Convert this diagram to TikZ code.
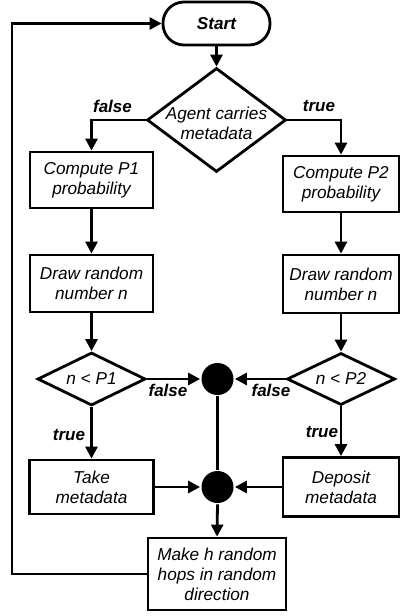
\documentclass[tikz,border=0pt]{standalone}
\usepackage{fontspec}
\setmainfont{Liberation Sans}
\usetikzlibrary{arrows.meta,shapes.geometric}
\newcommand{\dtxt}[2]{\makebox[0pt]{\smash{\raisebox{#1}{\begin{tabular}{@{}c@{}}#2\end{tabular}}}}}
\begin{document}
\begin{tikzpicture}[x=1pt,y=-1pt,
  line width=2.8pt,
  every node/.style={font=\fontsize{17.2}{20}\selectfont\itshape, inner sep=0pt},
  proc/.style={draw, rectangle, align=center},
  deci/.style={draw, diamond, inner sep=0pt},
  junc/.style={circle, fill=black, minimum size=32pt, inner sep=0pt},
  termnode/.style={draw, rectangle, rounded corners=21pt, minimum width=107pt, minimum height=43pt, font=\fontsize{17.2}{20}\selectfont\bfseries\itshape},
  lbl/.style={font=\fontsize{17}{20}\selectfont\bfseries\itshape},
  arr/.style={-{Triangle[length=12pt,width=12pt]}}
]
\useasboundingbox (0,0) rectangle (400,616);

\node[termnode] (start) at (216.5,23.5) {Start};
\node[deci, minimum width=139pt, minimum height=104pt] (d1) at (216.5,120) {\dtxt{-10pt}{Agent carries\\metadata}};

\node[proc, minimum width=123pt, minimum height=56pt] (p1) at (91.5,180) {Compute P1\\probability};
\node[proc, minimum width=116pt, minimum height=56pt] (p2) at (341,184) {Compute P2\\probability};

\node[proc, minimum width=123pt, minimum height=57pt] (r1) at (91.5,283.5) {Draw random\\number n};
\node[proc, minimum width=116pt, minimum height=58pt] (r2) at (341,284) {Draw random\\number n};

\node[deci, minimum width=108pt, minimum height=53pt] (c1) at (91.5,379) {\dtxt{-6pt}{n < P1}};
\node[deci, minimum width=108pt, minimum height=52pt] (c2) at (341,379) {\dtxt{-6pt}{n < P2}};

\node[junc] (j1) at (217.5,379) {};
\node[junc] (j2) at (217.5,487) {};

\node[proc, minimum width=124pt, minimum height=54pt] (t1) at (91.5,487) {Take\\metadata};
\node[proc, minimum width=116pt, minimum height=59pt] (t2) at (341,487) {Deposit\\metadata};

\node[proc, minimum width=138pt, minimum height=72pt] (mk) at (217,574) {Make h random\\hops in random\\direction};

\coordinate (lp) at (12,574);

% connectors
\draw[arr] (start.south) -- (d1.north);
\draw[arr] (d1.west) -| (p1.north);
\draw[arr] (d1.east) -| (p2.north);
\draw[arr] (p1.south) -- (r1.north);
\draw[arr] (p2.south) -- (r2.north);
\draw[arr] (r1.south) -- (c1.north);
\draw[arr] (r2.south) -- (c2.north);
\draw[arr] (c1.south) -- (t1.north);
\draw[arr] (c2.south) -- (t2.north);
\draw[arr] (c1.east) -- (j1.west);
\draw[arr] (c2.west) -- (j1.east);
\draw (j1.south) -- (j2.north);
\draw[arr] (t1.east) -- (j2.west);
\draw[arr] (t2.west) -- (j2.east);
\draw[arr] (j2.south) -- (mk.north);
\draw[arr] (mk.west) -- (lp) |- (start.west);

% labels
\node[lbl] (lf1) at (112.5,106) {false};
\node[lbl] (lt1) at (319,106) {true};
\node[lbl] (lf2) at (168,390) {false};
\node[lbl] (lf3) at (271,390) {false};
\node[lbl] (lt2) at (69,435) {true};
\node[lbl] (lt3) at (322,432) {true};
\end{tikzpicture}
\end{document}
